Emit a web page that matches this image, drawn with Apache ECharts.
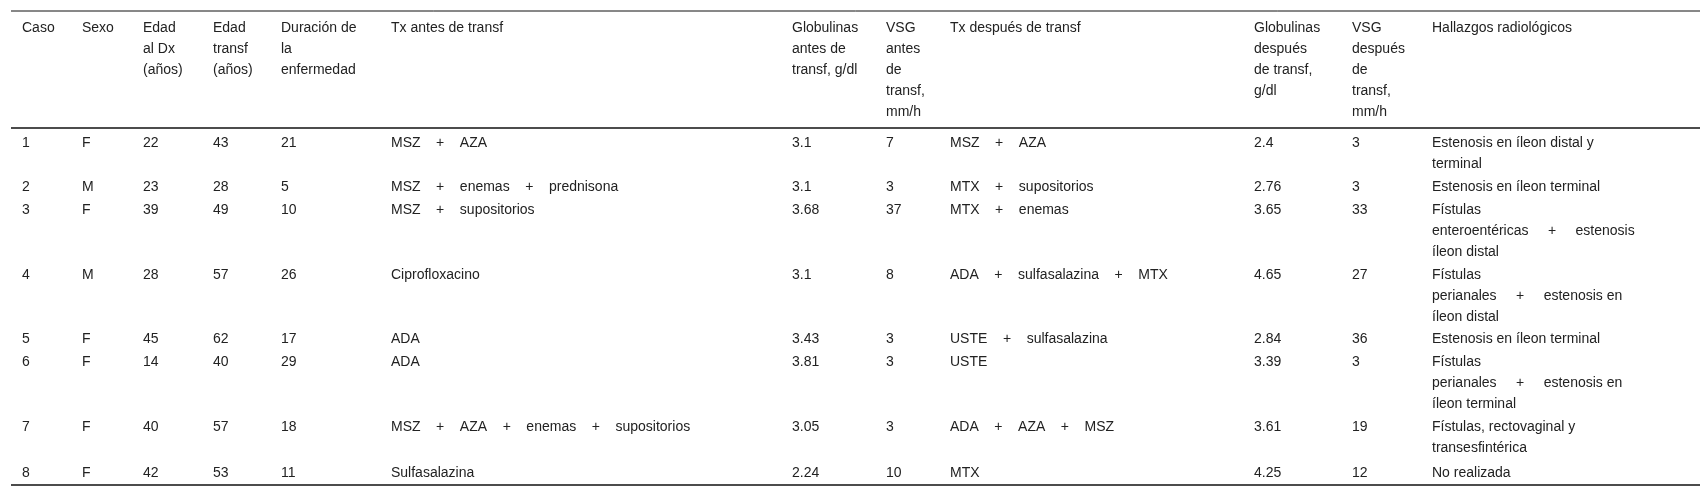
<!DOCTYPE html>
<html lang="es">
<head>
  <meta charset="UTF-8">
  <title>Tabla</title>
  <script src="https://cdn.jsdelivr.net/npm/echarts@6/dist/echarts.min.js"></script>
</head>
<body style="margin:0">
  <div id="main" style="width:1701px;height:498px"></div>
  <script>
    // encabezados y columnas de la tabla
    var headers = ['Caso', 'Sexo', 'Edad\nal Dx\n(años)', 'Edad\ntransf\n(años)', 'Duración de\nla\nenfermedad',
      'Tx antes de transf', 'Globulinas\nantes de\ntransf, g/dl', 'VSG\nantes\nde\ntransf,\nmm/h',
      'Tx después de transf', 'Globulinas\ndespués\nde transf,\ng/dl', 'VSG\ndespués\nde\ntransf,\nmm/h', 'Hallazgos radiológicos']
    var caso = ['1', '2', '3', '4', '5', '6', '7', '8']
    var sexo = ['F', 'M', 'F', 'M', 'F', 'F', 'F', 'F']
    var edadDx = [22, 23, 39, 28, 45, 14, 40, 42]
    var edadTransf = [43, 28, 49, 57, 62, 40, 57, 53]
    var duracion = [21, 5, 10, 26, 17, 29, 18, 11]
    var txAntes = ['MSZ    +    AZA', 'MSZ    +    enemas    +    prednisona', 'MSZ    +    supositorios', 'Ciprofloxacino',
      'ADA', 'ADA', 'MSZ    +    AZA    +    enemas    +    supositorios', 'Sulfasalazina']
    var globAntes = ['3.1', '3.1', '3.68', '3.1', '3.43', '3.81', '3.05', '2.24']
    var vsgAntes = [7, 3, 37, 8, 3, 3, 3, 10]
    var txDespues = ['MSZ    +    AZA', 'MTX    +    supositorios', 'MTX    +    enemas', 'ADA    +    sulfasalazina    +    MTX',
      'USTE    +    sulfasalazina', 'USTE', 'ADA    +    AZA    +    MSZ', 'MTX']
    var globDespues = ['2.4', '2.76', '3.65', '4.65', '2.84', '3.39', '3.61', '4.25']
    var vsgDespues = [3, 3, 33, 27, 36, 3, 19, 12]
    var hallazgos = ['Estenosis en íleon distal y\nterminal', 'Estenosis en íleon terminal',
      'Fístulas\nenteroentéricas     +     estenosis\níleon distal', 'Fístulas\nperianales     +     estenosis en\níleon distal',
      'Estenosis en íleon terminal', 'Fístulas\nperianales     +     estenosis en\níleon terminal',
      'Fístulas, rectovaginal y\ntransesfintérica', 'No realizada']

    var columnas = [caso, sexo, edadDx, edadTransf, duracion, txAntes, globAntes, vsgAntes, txDespues, globDespues, vsgDespues, hallazgos]
    var colX = [22, 82, 143, 213, 281, 391, 792, 886, 950, 1254, 1352, 1432]
    var rowY = [140, 184, 207, 272, 336, 359, 424, 470]

    var fuente = '14px "Liberation Sans", Arial, sans-serif'
    var elems = []
    headers.forEach(function (h, i) {
      elems.push({ type: 'text', left: colX[i], top: 18, style: { text: h, font: fuente, fill: '#222', lineHeight: 21 } })
    })
    columnas.forEach(function (col, c) {
      col.forEach(function (v, r) {
        elems.push({ type: 'text', left: colX[c], top: rowY[r] - 7, style: { text: String(v), font: fuente, fill: '#222', lineHeight: 21 } })
      })
    })
    ;[11, 128, 485].forEach(function (y, i) {
      elems.push({ type: 'line', shape: { x1: 11, y1: y, x2: 1700, y2: y }, style: { stroke: '#111', lineWidth: i == 0 ? 1 : 1.6 } })
    })

    var chart = echarts.init(document.getElementById('main'))
    chart.setOption({ backgroundColor: '#fff', graphic: { elements: elems } })
  </script>
</body>
</html>
